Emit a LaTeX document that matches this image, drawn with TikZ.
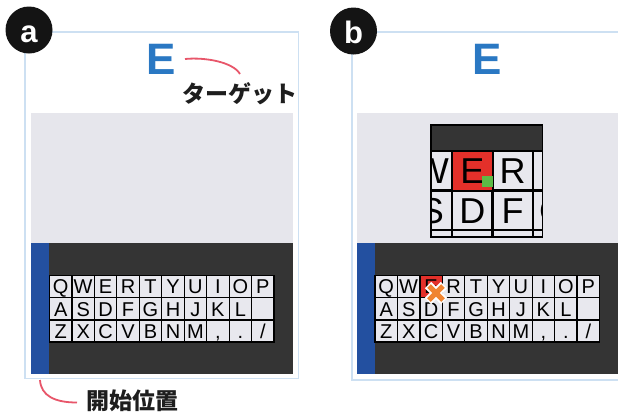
\documentclass[tikz,border=0pt]{standalone}
\usepackage{fontspec}
\setmainfont{Liberation Sans}
\setsansfont{Liberation Sans}
\newfontfamily\jpfont{Noto Sans CJK JP}
\definecolor{framecol}{HTML}{CDE0F2}
\definecolor{grayarea}{HTML}{E6E6EC}
\definecolor{darkbg}{HTML}{343434}
\definecolor{bluebar}{HTML}{2350A0}
\definecolor{keygray}{HTML}{E8E8EE}
\definecolor{keyred}{HTML}{E3302A}
\definecolor{touchgreen}{HTML}{5DBB46}
\definecolor{orangex}{HTML}{F08532}
\definecolor{pinkc}{HTML}{E8566A}
\definecolor{blueE}{HTML}{2A78C3}
\definecolor{textdark}{HTML}{1E1E1E}
\tikzset{
  key/.style={draw=black, fill=keygray, line width=1.2pt, minimum width=22.45pt,
    minimum height=22.1pt, inner sep=0pt, font=\fontsize{20}{20}\selectfont,
    text height=14.3pt, text depth=0pt, text=black},
  panelframe/.style={draw=framecol, line width=1.2pt, fill=white},
  badge/.style={circle, fill=black!92, minimum size=47pt, inner sep=0pt, text=white,
    font=\fontsize{31}{31}\selectfont\bfseries, text height=25pt, text depth=0pt},
  bigE/.style={anchor=base, text=blueE, inner sep=0pt, font=\fontsize{44}{44}\selectfont\bfseries},
  jplabel/.style={anchor=base, text=textdark, inner sep=0pt, font=\jpfont\bfseries\fontsize{23}{23}\selectfont},
  pinkline/.style={draw=pinkc, line width=1.8pt},
}
\newcommand\kbd[2]{%
  \foreach \k [count=\i from 0] in {Q,W,E,R,T,Y,U,I,O,P}
    {\node[key] (#1-q\i) at ({#2+(\i+0.5)*22.45},{275.7+0.5*22.1}) {\k};}
  \foreach \k [count=\i from 0] in {A,S,D,F,G,H,J,K,L,{}}
    {\node[key] (#1-a\i) at ({#2+(\i+0.5)*22.45},{275.7+1.5*22.1}) {\k};}
  \foreach \k [count=\i from 0] in {Z,X,C,V,B,N,M,{,},.,/}
    {\node[key] (#1-z\i) at ({#2+(\i+0.5)*22.45},{275.7+2.5*22.1}) {\k};}
}
\begin{document}
\begin{tikzpicture}[x=1pt,y=-1pt]
\clip (0,0) rectangle (618,416);
\fill[white] (0,0) rectangle (618,416);

% ---------- panel a ----------
\draw[panelframe] (25,32) rectangle (298.5,378.5);
\fill[grayarea] (31,113) rectangle (293.3,243);
\fill[darkbg] (31,243) rectangle (293.3,374);
\fill[bluebar] (31,243) rectangle (49,374);
\kbd{a}{49.5}
\node[bigE] (aE) at (161.5,74) {E};
\node[jplabel] (atarget) at (240,102.5) {ターゲット};
\node[jplabel] (astart) at (132,409.5) {開始位置};
\coordinate (aEc) at (185,59);
\coordinate (atc) at (240,74);
\draw[pinkline] (aEc) .. controls (205,57) and (233,62) .. (atc);
\coordinate (abar) at (40,380);
\coordinate (asc) at (77,402.5);
\draw[pinkline] (abar) .. controls (41,396) and (55,402.5) .. (asc);
\node[badge] (ba) at (29,30) {a};

% ---------- panel b ----------
\draw[panelframe] (352,32) rectangle (640,380);
\fill[grayarea] (357,113) rectangle (640,243);
\fill[darkbg] (357,243) rectangle (640,374);
\fill[bluebar] (357,243) rectangle (375,374);
\kbd{b}{375}
\node[key, fill=keyred] (bE) at (b-q2) {E};
\node[bigE] (bEt) at (487,74) {E};

% magnifier
\begin{scope}
  \clip (431,125) rectangle (542.5,237);
  \fill[darkbg] (431,125) rectangle (542.5,237);
  \begin{scope}[shift={(487,181)}, scale=1.8, shift={(-439.3,-292.5)},
      every node/.append style={transform shape}, key/.append style={line width=2.2pt}]
    \kbd{m}{375}
    \node[key, fill=keyred] (mE) at (m-q2) {E};
  \end{scope}
\end{scope}
\draw[line width=1.6pt, draw=black] (431,125) rectangle (542.5,237);
\fill[touchgreen] (482,175.5) rectangle (493,186.5);

% touch mark
\coordinate (touch) at (436,293);
\draw[white, line width=9pt] ([shift={(-8,-8)}]touch) -- ([shift={(8,8)}]touch)
  ([shift={(8,-8)}]touch) -- ([shift={(-8,8)}]touch);
\draw[orangex, line width=5pt] ([shift={(-7,-7)}]touch) -- ([shift={(7,7)}]touch)
  ([shift={(7,-7)}]touch) -- ([shift={(-7,7)}]touch);

\node[badge] (bb) at (353.5,31) {b};
\end{tikzpicture}
\end{document}
